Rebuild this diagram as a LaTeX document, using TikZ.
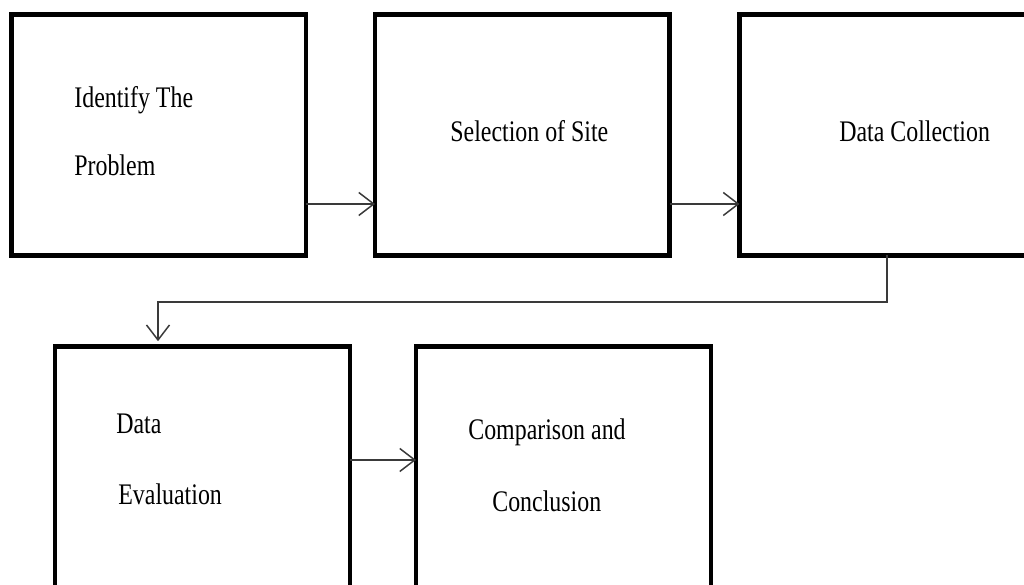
\documentclass[tikz,border=0pt]{standalone}
\usepackage{fontspec}
\setmainfont{Liberation Serif}[FakeStretch=0.8]
\usepackage{tikz}
\usetikzlibrary{positioning, calc, arrows.meta}

\definecolor{linegray}{HTML}{3A3A3A}

\begin{document}
\begin{tikzpicture}
    [stagebox/.style={rectangle, draw=black, line width=2.3pt, inner sep=0pt, outer sep=0pt,
        minimum width=5.89cm, minimum height=4.82cm},
    lowbox/.style={stagebox, minimum width=5.9cm, minimum height=5cm},
    boxtext/.style={anchor=base west, inner sep=0pt, font=\fontsize{17pt}{20pt}\selectfont},
    flow/.style={draw=linegray, line width=0.85pt, -{Straight Barb[length=0.3cm, width=0.46cm]}},]

    \useasboundingbox (0,0) rectangle (20.48,11.7);
    \clip (0,0) rectangle (20.48,11.7);

    %Nodes
    \node[stagebox](identify) at (3.175,9.0) {};
    \node[stagebox](site)[right=1.38cm of identify] {};
    \node[stagebox](collection)[right=1.4cm of site] {};
    \node[lowbox](evaluation) at (4.05,2.27) {};
    \node[lowbox](conclusion)[right=1.32cm of evaluation] {};

    %Labels
    \node[boxtext](identifyA) at ([xshift=1.25cm, yshift=-1.87cm]identify.north west) {Identify The};
    \node[boxtext](identifyB) at ([xshift=1.25cm, yshift=-3.23cm]identify.north west) {Problem};
    \node[boxtext](sitetext) at ([xshift=1.5cm, yshift=-2.55cm]site.north west) {Selection of Site};
    \node[boxtext](collectiontext) at ([xshift=1.99cm, yshift=-2.55cm]collection.north west) {Data Collection};
    \node[boxtext](evaluationA) at ([xshift=1.22cm, yshift=-1.75cm]evaluation.north west) {Data};
    \node[boxtext](evaluationB) at ([xshift=1.26cm, yshift=-3.17cm]evaluation.north west) {Evaluation};
    \node[boxtext](conclusionA) at ([xshift=1.04cm, yshift=-1.87cm]conclusion.north west) {Comparison and};
    \node[boxtext](conclusionB) at ([xshift=1.52cm, yshift=-3.31cm]conclusion.north west) {Conclusion};

    %Lines
    \coordinate(turn) at (3.16,5.66);
    \draw[flow]([yshift=-1.38cm]identify.east)--([yshift=-1.38cm]site.west);
    \draw[flow]([yshift=-1.38cm]site.east)--([yshift=-1.38cm]collection.west);
    \draw[flow, shorten >=3pt](collection.south)|-(turn)--(turn |- evaluation.north);
    \draw[flow]([yshift=0.23cm]evaluation.east)--([yshift=0.23cm]conclusion.west);

\end{tikzpicture}
\end{document}
